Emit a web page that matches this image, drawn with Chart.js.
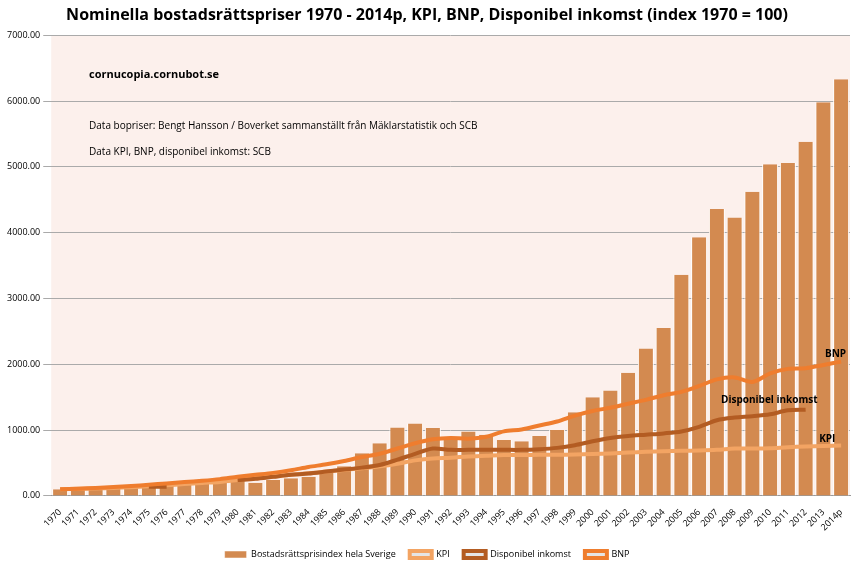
<!DOCTYPE html>
<html><head><meta charset="utf-8">
<script src="https://cdn.jsdelivr.net/npm/chart.js@4"></script>
<style>body{margin:0;background:#fff}#wrap{width:856px;height:571px}</style>
</head><body><div id="wrap"><canvas id="c"></canvas></div>
<script>
const years = ['1970','1971','1972','1973','1974','1975','1976','1977','1978','1979','1980','1981','1982','1983','1984','1985','1986','1987','1988','1989','1990','1991','1992','1993','1994','1995','1996','1997','1998','1999','2000','2001','2002','2003','2004','2005','2006','2007','2008','2009','2010','2011','2012','2013','2014p'];
const bostad = [100,110,115,120,130,150,160,180,200,215,230,200,240,270,290,370,450,650,800,1040,1100,1030,880,980,930,850,830,910,1000,1270,1500,1600,1870,2240,2550,3360,3930,4360,4230,4620,5040,5060,5380,5980,6330];
const kpi = [100,107,114,122,133,146,162,180,198,212,240,270,295,320,345,370,395,420,450,490,540,570,580,600,610,620,620,625,625,630,635,645,660,670,680,685,690,700,720,720,725,740,750,760,765];
const bnp = [100,110,122,135,150,170,190,210,230,255,290,320,350,390,440,480,530,590,640,720,800,860,880,870,900,980,1010,1070,1130,1220,1290,1340,1400,1460,1530,1580,1670,1770,1800,1730,1860,1930,1940,1990,2040];
const disp = [null,null,null,null,null,140,140,null,null,null,240,260,290,320,340,370,400,430,470,550,640,720,700,700,700,700,700,710,730,770,830,880,910,930,950,980,1050,1150,1190,1210,1240,1300,1310,null,null];

const notes = {
  id:'notes',
  afterDraw(ch){
    const c=ch.ctx, x=ch.scales.x, y=ch.scales.y;
    c.save(); c.fillStyle='#000';
    c.font='bold 11px "Open Sans", sans-serif';
    c.fillText('cornucopia.cornubot.se',89,75);
    c.font='10px "Open Sans", sans-serif';
    c.fillText('Data bopriser: Bengt Hansson / Boverket sammanställt från Mäklarstatistik och SCB',89,126);
    c.fillText('Data KPI, BNP, disponibel inkomst: SCB',89,152);
    c.font='bold 10px "Open Sans", sans-serif';
    c.textAlign='right';
    c.fillText('BNP',x.getPixelForValue(44)+5,y.getPixelForValue(2150));
    c.fillText('Disponibel inkomst',x.getPixelForValue(42)+12,y.getPixelForValue(1460));
    c.fillText('KPI',x.getPixelForValue(43)+12,y.getPixelForValue(860));
    c.restore();
  },
  beforeDraw(ch){
    const a=ch.chartArea, c=ch.ctx;
    c.save(); c.fillStyle='#fcf0ec'; c.fillRect(a.left,a.top,a.right-a.left,a.bottom-a.top); c.restore();
  }
};

new Chart(document.getElementById('c'),{
  data:{labels:years,datasets:[
    {type:'line',label:'KPI',data:kpi,borderColor:'#f3a463',borderWidth:4,pointRadius:0,tension:0.3,order:3},
    {type:'line',label:'BNP',data:bnp,borderColor:'#ef7d2e',borderWidth:4,pointRadius:0,tension:0.3,order:1},
    {type:'line',label:'Disponibel inkomst',data:disp,borderColor:'#b35c22',borderWidth:4,pointRadius:0,tension:0.3,spanGaps:false,order:2},
    {type:'bar',label:'Bostadsrättsprisindex hela Sverige',data:bostad,backgroundColor:'#d38a50',borderColor:'#ffffff',borderWidth:{left:1,right:1},categoryPercentage:1,barPercentage:0.9,order:4}
  ]},
  options:{
    responsive:true,maintainAspectRatio:false,animation:false,
    layout:{padding:{left:4,right:6,top:4,bottom:2}},
    plugins:{
      title:{display:true,text:'Nominella bostadsrättspriser 1970 - 2014p, KPI, BNP, Disponibel inkomst (index 1970 = 100)',font:{family:'"Open Sans", sans-serif',size:16,weight:'bold'},color:'#000',padding:{top:2,bottom:10}},
      legend:{position:'bottom',reverse:true,labels:{boxWidth:22,boxHeight:7,font:{family:'"Open Sans", sans-serif',size:9},color:'#000',padding:14}},
      tooltip:{enabled:false}
    },
    scales:{
      x:{grid:{display:false},border:{color:'#999'},ticks:{maxRotation:45,minRotation:45,autoSkip:false,font:{family:'"Open Sans", sans-serif',size:9},color:'#000'}},
      y:{min:0,max:7000,ticks:{stepSize:1000,callback:v=>v.toFixed(2),font:{family:'"Open Sans", sans-serif',size:9},color:'#000'},grid:{color:'#aaa'},border:{display:false}}
    }
  },
  plugins:[notes]
});
</script></body></html>
